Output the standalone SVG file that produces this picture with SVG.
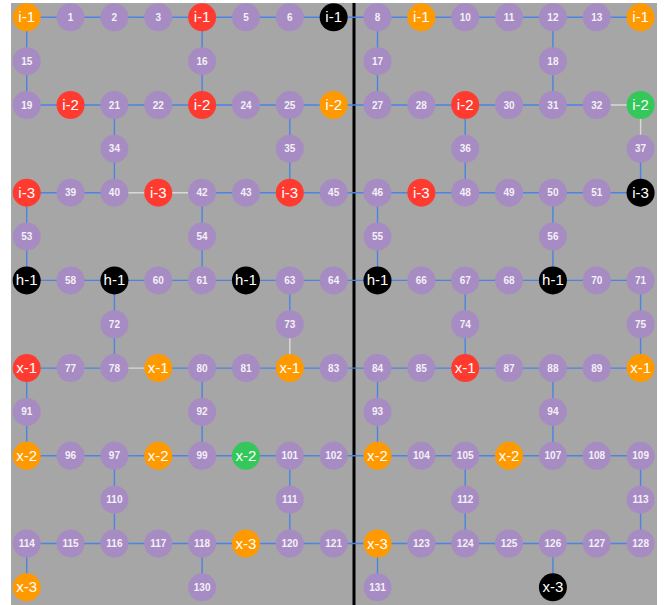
<svg xmlns="http://www.w3.org/2000/svg" width="665" height="605" viewBox="0 0 665 605">
<style>
.bg{fill:#a6a6a6}
.e{stroke:#4a84e8;stroke-width:1.4;fill:none}
.w{stroke:#d9d9d9;stroke-width:1.4;fill:none}
circle{r:14px}
.p circle{fill:#a78bc3}
.o circle{fill:#ff9900}
.r circle{fill:#ff3b30}
.g circle{fill:#34c759}
.k circle{fill:#000}
text{font-family:"Liberation Sans",Arial,sans-serif;fill:#fff;text-anchor:middle}
.p text{font-size:10px;font-weight:bold;fill:#f4f0f8}
.o text,.r text,.g text,.k text{font-size:15px}
</style>
<rect class="bg" x="11" y="3" width="646" height="602"/>
<rect x="352.5" y="3" width="3" height="602" fill="#000"/>
<g id="connectors">
<path class="e" d="M26.7 17.3H640.6 M26.7 105H596.75 M26.7 192.7H114.4 M202.1 192.7H640.6 M26.7 280.4H640.6 M26.7 368.1H114.4 M158.25 368.1H640.6 M26.7 455.8H640.6 M26.7 543.5H640.6"/>
<path class="w" d="M596.75 105H640.6 M114.4 192.7H202.1 M114.4 368.1H158.25 M289.8 324.25V368.1 M640.6 105V148.85"/>
<path class="e" d="M26.7 17.3V105 M26.7 192.7V280.4 M26.7 368.1V455.8 M26.7 543.5V587.35
M114.4 105V192.7 M114.4 280.4V368.1 M114.4 455.8V543.5
M202.1 17.3V105 M202.1 192.7V280.4 M202.1 368.1V455.8 M202.1 543.5V587.35
M289.8 105V192.7 M289.8 280.4V324.25 M289.8 455.8V543.5
M377.5 17.3V105 M377.5 192.7V280.4 M377.5 368.1V455.8 M377.5 543.5V587.35
M465.2 105V192.7 M465.2 280.4V368.1 M465.2 455.8V543.5
M552.9 17.3V105 M552.9 192.7V280.4 M552.9 368.1V455.8 M552.9 543.5V587.35
M640.6 148.85V192.7 M640.6 280.4V368.1 M640.6 455.8V543.5"/>
</g>
<g id="nodes">
<g id="n0" class="o" transform="translate(26.7,17.3)"><circle/><text dy="5">i-1</text></g>
<g id="n1" class="p" transform="translate(70.55,17.3)"><circle/><text dy="3.5">1</text></g>
<g id="n2" class="p" transform="translate(114.4,17.3)"><circle/><text dy="3.5">2</text></g>
<g id="n3" class="p" transform="translate(158.25,17.3)"><circle/><text dy="3.5">3</text></g>
<g id="n4" class="r" transform="translate(202.1,17.3)"><circle/><text dy="5">i-1</text></g>
<g id="n5" class="p" transform="translate(245.95,17.3)"><circle/><text dy="3.5">5</text></g>
<g id="n6" class="p" transform="translate(289.8,17.3)"><circle/><text dy="3.5">6</text></g>
<g id="n7" class="k" transform="translate(333.65,17.3)"><circle/><text dy="5">i-1</text></g>
<g id="n8" class="p" transform="translate(377.5,17.3)"><circle/><text dy="3.5">8</text></g>
<g id="n9" class="o" transform="translate(421.35,17.3)"><circle/><text dy="5">i-1</text></g>
<g id="n10" class="p" transform="translate(465.2,17.3)"><circle/><text dy="3.5">10</text></g>
<g id="n11" class="p" transform="translate(509.05,17.3)"><circle/><text dy="3.5">11</text></g>
<g id="n12" class="p" transform="translate(552.9,17.3)"><circle/><text dy="3.5">12</text></g>
<g id="n13" class="p" transform="translate(596.75,17.3)"><circle/><text dy="3.5">13</text></g>
<g id="n14" class="o" transform="translate(640.6,17.3)"><circle/><text dy="5">i-1</text></g>
<g id="n15" class="p" transform="translate(26.7,61.15)"><circle/><text dy="3.5">15</text></g>
<g id="n16" class="p" transform="translate(202.1,61.15)"><circle/><text dy="3.5">16</text></g>
<g id="n17" class="p" transform="translate(377.5,61.15)"><circle/><text dy="3.5">17</text></g>
<g id="n18" class="p" transform="translate(552.9,61.15)"><circle/><text dy="3.5">18</text></g>
<g id="n19" class="p" transform="translate(26.7,105)"><circle/><text dy="3.5">19</text></g>
<g id="n20" class="r" transform="translate(70.55,105)"><circle/><text dy="5">i-2</text></g>
<g id="n21" class="p" transform="translate(114.4,105)"><circle/><text dy="3.5">21</text></g>
<g id="n22" class="p" transform="translate(158.25,105)"><circle/><text dy="3.5">22</text></g>
<g id="n23" class="r" transform="translate(202.1,105)"><circle/><text dy="5">i-2</text></g>
<g id="n24" class="p" transform="translate(245.95,105)"><circle/><text dy="3.5">24</text></g>
<g id="n25" class="p" transform="translate(289.8,105)"><circle/><text dy="3.5">25</text></g>
<g id="n26" class="o" transform="translate(333.65,105)"><circle/><text dy="5">i-2</text></g>
<g id="n27" class="p" transform="translate(377.5,105)"><circle/><text dy="3.5">27</text></g>
<g id="n28" class="p" transform="translate(421.35,105)"><circle/><text dy="3.5">28</text></g>
<g id="n29" class="r" transform="translate(465.2,105)"><circle/><text dy="5">i-2</text></g>
<g id="n30" class="p" transform="translate(509.05,105)"><circle/><text dy="3.5">30</text></g>
<g id="n31" class="p" transform="translate(552.9,105)"><circle/><text dy="3.5">31</text></g>
<g id="n32" class="p" transform="translate(596.75,105)"><circle/><text dy="3.5">32</text></g>
<g id="n33" class="g" transform="translate(640.6,105)"><circle/><text dy="5">i-2</text></g>
<g id="n34" class="p" transform="translate(114.4,148.85)"><circle/><text dy="3.5">34</text></g>
<g id="n35" class="p" transform="translate(289.8,148.85)"><circle/><text dy="3.5">35</text></g>
<g id="n36" class="p" transform="translate(465.2,148.85)"><circle/><text dy="3.5">36</text></g>
<g id="n37" class="p" transform="translate(640.6,148.85)"><circle/><text dy="3.5">37</text></g>
<g id="n38" class="r" transform="translate(26.7,192.7)"><circle/><text dy="5">i-3</text></g>
<g id="n39" class="p" transform="translate(70.55,192.7)"><circle/><text dy="3.5">39</text></g>
<g id="n40" class="p" transform="translate(114.4,192.7)"><circle/><text dy="3.5">40</text></g>
<g id="n41" class="r" transform="translate(158.25,192.7)"><circle/><text dy="5">i-3</text></g>
<g id="n42" class="p" transform="translate(202.1,192.7)"><circle/><text dy="3.5">42</text></g>
<g id="n43" class="p" transform="translate(245.95,192.7)"><circle/><text dy="3.5">43</text></g>
<g id="n44" class="r" transform="translate(289.8,192.7)"><circle/><text dy="5">i-3</text></g>
<g id="n45" class="p" transform="translate(333.65,192.7)"><circle/><text dy="3.5">45</text></g>
<g id="n46" class="p" transform="translate(377.5,192.7)"><circle/><text dy="3.5">46</text></g>
<g id="n47" class="r" transform="translate(421.35,192.7)"><circle/><text dy="5">i-3</text></g>
<g id="n48" class="p" transform="translate(465.2,192.7)"><circle/><text dy="3.5">48</text></g>
<g id="n49" class="p" transform="translate(509.05,192.7)"><circle/><text dy="3.5">49</text></g>
<g id="n50" class="p" transform="translate(552.9,192.7)"><circle/><text dy="3.5">50</text></g>
<g id="n51" class="p" transform="translate(596.75,192.7)"><circle/><text dy="3.5">51</text></g>
<g id="n52" class="k" transform="translate(640.6,192.7)"><circle/><text dy="5">i-3</text></g>
<g id="n53" class="p" transform="translate(26.7,236.55)"><circle/><text dy="3.5">53</text></g>
<g id="n54" class="p" transform="translate(202.1,236.55)"><circle/><text dy="3.5">54</text></g>
<g id="n55" class="p" transform="translate(377.5,236.55)"><circle/><text dy="3.5">55</text></g>
<g id="n56" class="p" transform="translate(552.9,236.55)"><circle/><text dy="3.5">56</text></g>
<g id="n57" class="k" transform="translate(26.7,280.4)"><circle/><text dy="5">h-1</text></g>
<g id="n58" class="p" transform="translate(70.55,280.4)"><circle/><text dy="3.5">58</text></g>
<g id="n59" class="k" transform="translate(114.4,280.4)"><circle/><text dy="5">h-1</text></g>
<g id="n60" class="p" transform="translate(158.25,280.4)"><circle/><text dy="3.5">60</text></g>
<g id="n61" class="p" transform="translate(202.1,280.4)"><circle/><text dy="3.5">61</text></g>
<g id="n62" class="k" transform="translate(245.95,280.4)"><circle/><text dy="5">h-1</text></g>
<g id="n63" class="p" transform="translate(289.8,280.4)"><circle/><text dy="3.5">63</text></g>
<g id="n64" class="p" transform="translate(333.65,280.4)"><circle/><text dy="3.5">64</text></g>
<g id="n65" class="k" transform="translate(377.5,280.4)"><circle/><text dy="5">h-1</text></g>
<g id="n66" class="p" transform="translate(421.35,280.4)"><circle/><text dy="3.5">66</text></g>
<g id="n67" class="p" transform="translate(465.2,280.4)"><circle/><text dy="3.5">67</text></g>
<g id="n68" class="p" transform="translate(509.05,280.4)"><circle/><text dy="3.5">68</text></g>
<g id="n69" class="k" transform="translate(552.9,280.4)"><circle/><text dy="5">h-1</text></g>
<g id="n70" class="p" transform="translate(596.75,280.4)"><circle/><text dy="3.5">70</text></g>
<g id="n71" class="p" transform="translate(640.6,280.4)"><circle/><text dy="3.5">71</text></g>
<g id="n72" class="p" transform="translate(114.4,324.25)"><circle/><text dy="3.5">72</text></g>
<g id="n73" class="p" transform="translate(289.8,324.25)"><circle/><text dy="3.5">73</text></g>
<g id="n74" class="p" transform="translate(465.2,324.25)"><circle/><text dy="3.5">74</text></g>
<g id="n75" class="p" transform="translate(640.6,324.25)"><circle/><text dy="3.5">75</text></g>
<g id="n76" class="r" transform="translate(26.7,368.1)"><circle/><text dy="5">x-1</text></g>
<g id="n77" class="p" transform="translate(70.55,368.1)"><circle/><text dy="3.5">77</text></g>
<g id="n78" class="p" transform="translate(114.4,368.1)"><circle/><text dy="3.5">78</text></g>
<g id="n79" class="o" transform="translate(158.25,368.1)"><circle/><text dy="5">x-1</text></g>
<g id="n80" class="p" transform="translate(202.1,368.1)"><circle/><text dy="3.5">80</text></g>
<g id="n81" class="p" transform="translate(245.95,368.1)"><circle/><text dy="3.5">81</text></g>
<g id="n82" class="o" transform="translate(289.8,368.1)"><circle/><text dy="5">x-1</text></g>
<g id="n83" class="p" transform="translate(333.65,368.1)"><circle/><text dy="3.5">83</text></g>
<g id="n84" class="p" transform="translate(377.5,368.1)"><circle/><text dy="3.5">84</text></g>
<g id="n85" class="p" transform="translate(421.35,368.1)"><circle/><text dy="3.5">85</text></g>
<g id="n86" class="r" transform="translate(465.2,368.1)"><circle/><text dy="5">x-1</text></g>
<g id="n87" class="p" transform="translate(509.05,368.1)"><circle/><text dy="3.5">87</text></g>
<g id="n88" class="p" transform="translate(552.9,368.1)"><circle/><text dy="3.5">88</text></g>
<g id="n89" class="p" transform="translate(596.75,368.1)"><circle/><text dy="3.5">89</text></g>
<g id="n90" class="o" transform="translate(640.6,368.1)"><circle/><text dy="5">x-1</text></g>
<g id="n91" class="p" transform="translate(26.7,411.95)"><circle/><text dy="3.5">91</text></g>
<g id="n92" class="p" transform="translate(202.1,411.95)"><circle/><text dy="3.5">92</text></g>
<g id="n93" class="p" transform="translate(377.5,411.95)"><circle/><text dy="3.5">93</text></g>
<g id="n94" class="p" transform="translate(552.9,411.95)"><circle/><text dy="3.5">94</text></g>
<g id="n95" class="o" transform="translate(26.7,455.8)"><circle/><text dy="5">x-2</text></g>
<g id="n96" class="p" transform="translate(70.55,455.8)"><circle/><text dy="3.5">96</text></g>
<g id="n97" class="p" transform="translate(114.4,455.8)"><circle/><text dy="3.5">97</text></g>
<g id="n98" class="o" transform="translate(158.25,455.8)"><circle/><text dy="5">x-2</text></g>
<g id="n99" class="p" transform="translate(202.1,455.8)"><circle/><text dy="3.5">99</text></g>
<g id="n100" class="g" transform="translate(245.95,455.8)"><circle/><text dy="5">x-2</text></g>
<g id="n101" class="p" transform="translate(289.8,455.8)"><circle/><text dy="3.5">101</text></g>
<g id="n102" class="p" transform="translate(333.65,455.8)"><circle/><text dy="3.5">102</text></g>
<g id="n103" class="o" transform="translate(377.5,455.8)"><circle/><text dy="5">x-2</text></g>
<g id="n104" class="p" transform="translate(421.35,455.8)"><circle/><text dy="3.5">104</text></g>
<g id="n105" class="p" transform="translate(465.2,455.8)"><circle/><text dy="3.5">105</text></g>
<g id="n106" class="o" transform="translate(509.05,455.8)"><circle/><text dy="5">x-2</text></g>
<g id="n107" class="p" transform="translate(552.9,455.8)"><circle/><text dy="3.5">107</text></g>
<g id="n108" class="p" transform="translate(596.75,455.8)"><circle/><text dy="3.5">108</text></g>
<g id="n109" class="p" transform="translate(640.6,455.8)"><circle/><text dy="3.5">109</text></g>
<g id="n110" class="p" transform="translate(114.4,499.65)"><circle/><text dy="3.5">110</text></g>
<g id="n111" class="p" transform="translate(289.8,499.65)"><circle/><text dy="3.5">111</text></g>
<g id="n112" class="p" transform="translate(465.2,499.65)"><circle/><text dy="3.5">112</text></g>
<g id="n113" class="p" transform="translate(640.6,499.65)"><circle/><text dy="3.5">113</text></g>
<g id="n114" class="p" transform="translate(26.7,543.5)"><circle/><text dy="3.5">114</text></g>
<g id="n115" class="p" transform="translate(70.55,543.5)"><circle/><text dy="3.5">115</text></g>
<g id="n116" class="p" transform="translate(114.4,543.5)"><circle/><text dy="3.5">116</text></g>
<g id="n117" class="p" transform="translate(158.25,543.5)"><circle/><text dy="3.5">117</text></g>
<g id="n118" class="p" transform="translate(202.1,543.5)"><circle/><text dy="3.5">118</text></g>
<g id="n119" class="o" transform="translate(245.95,543.5)"><circle/><text dy="5">x-3</text></g>
<g id="n120" class="p" transform="translate(289.8,543.5)"><circle/><text dy="3.5">120</text></g>
<g id="n121" class="p" transform="translate(333.65,543.5)"><circle/><text dy="3.5">121</text></g>
<g id="n122" class="o" transform="translate(377.5,543.5)"><circle/><text dy="5">x-3</text></g>
<g id="n123" class="p" transform="translate(421.35,543.5)"><circle/><text dy="3.5">123</text></g>
<g id="n124" class="p" transform="translate(465.2,543.5)"><circle/><text dy="3.5">124</text></g>
<g id="n125" class="p" transform="translate(509.05,543.5)"><circle/><text dy="3.5">125</text></g>
<g id="n126" class="p" transform="translate(552.9,543.5)"><circle/><text dy="3.5">126</text></g>
<g id="n127" class="p" transform="translate(596.75,543.5)"><circle/><text dy="3.5">127</text></g>
<g id="n128" class="p" transform="translate(640.6,543.5)"><circle/><text dy="3.5">128</text></g>
<g id="n129" class="o" transform="translate(26.7,587.35)"><circle/><text dy="5">x-3</text></g>
<g id="n130" class="p" transform="translate(202.1,587.35)"><circle/><text dy="3.5">130</text></g>
<g id="n131" class="p" transform="translate(377.5,587.35)"><circle/><text dy="3.5">131</text></g>
<g id="n132" class="k" transform="translate(552.9,587.35)"><circle/><text dy="5">x-3</text></g>
</g>
</svg>
